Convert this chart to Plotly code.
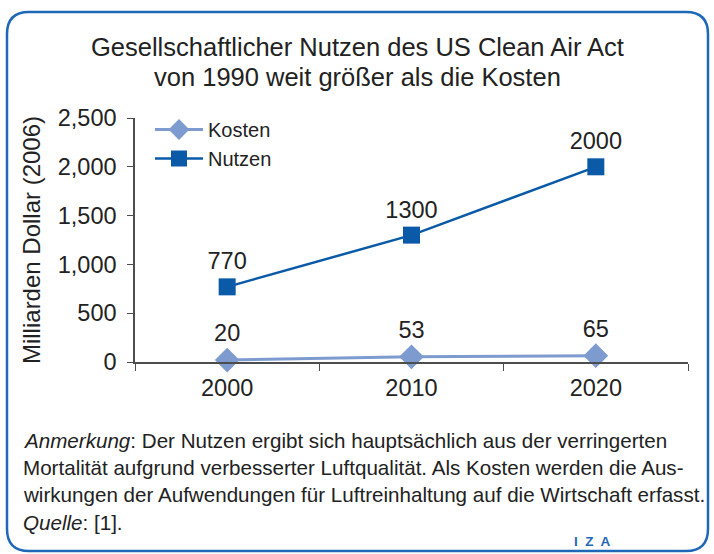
import plotly.graph_objects as go

# ---- data ----
years = ["2000", "2010", "2020"]
kosten = [20, 53, 65]
nutzen = [770, 1300, 2000]
y_ticks = [0, 500, 1000, 1500, 2000, 2500]
y_ticktext = ["0", "500", "1,000", "1,500", "2,000", "2,500"]

title_lines = ["Gesellschaftlicher Nutzen des US Clean Air Act",
               "von 1990 weit größer als die Kosten"]
y_title = "Milliarden Dollar (2006)"
note_lines = [
    "<i>Anmerkung</i>: Der Nutzen ergibt sich hauptsächlich aus der verringerten",
    "Mortalität aufgrund verbesserter Luftqualität. Als Kosten werden die Aus-",
    "wirkungen der Aufwendungen für Luftreinhaltung auf die Wirtschaft erfasst.",
    "<i>Quelle</i>: [1].",
]

# ---- layout geometry (pixels) ----
W, H = 714, 554
L, R, T, B = 135, 26, 118, 192
PW, PH = W - L - R, H - T - B

def px(x):
    return (x - L) / PW

def py(y):
    return (H - B - y) / PH

TXT = "#222222"
FONT = "Liberation Sans, Arial, sans-serif"
C_K = "#7e9bd0"
C_N = "#0a5aa8"
BORDER = "#1f68b8"
NUM = 23.5

fig = go.Figure()
fig.add_trace(go.Scatter(
    x=years, y=kosten, name="Kosten", mode="lines+markers+text",
    text=[str(v) for v in kosten], textposition="top center",
    textfont=dict(size=NUM, color=TXT, family=FONT),
    line=dict(color=C_K, width=3),
    marker=dict(symbol="diamond", size=19, color=C_K),
    cliponaxis=False,
))
fig.add_trace(go.Scatter(
    x=years, y=nutzen, name="Nutzen", mode="lines+markers+text",
    text=[str(v) for v in nutzen], textposition="top center",
    textfont=dict(size=NUM, color=TXT, family=FONT),
    line=dict(color=C_N, width=2.5),
    marker=dict(symbol="square", size=17, color=C_N),
    cliponaxis=False,
))

# rounded border
x0, x1, y0, y1, r = 7, 708, 12, 551, 22
rx, ry = r / PW, r / PH
X0, X1, Y0, Y1 = px(x0), px(x1), py(y0), py(y1)
path = (
    f"M {X0+rx},{Y0} L {X1-rx},{Y0} Q {X1},{Y0} {X1},{Y0-ry} "
    f"L {X1},{Y1+ry} Q {X1},{Y1} {X1-rx},{Y1} "
    f"L {X0+rx},{Y1} Q {X0},{Y1} {X0},{Y1+ry} "
    f"L {X0},{Y0-ry} Q {X0},{Y0} {X0+rx},{Y0} Z"
)
shapes = [dict(type="path", xref="paper", yref="paper", path=path,
               line=dict(color=BORDER, width=2.5), layer="below")]

annotations = []
for i, line in enumerate(title_lines):
    yy = [47, 77][i]
    annotations.append(dict(
        x=px(357), y=py(yy), xref="paper", yref="paper", text=line,
        showarrow=False, xanchor="center", yanchor="middle",
        font=dict(size=25.5, color=TXT, family=FONT),
    ))
for i, line in enumerate(note_lines):
    yy = [440, 467, 494, 522][i]
    annotations.append(dict(
        x=px(21), y=py(yy), xref="paper", yref="paper", text=line,
        showarrow=False, xanchor="left", yanchor="middle",
        font=dict(size=20.6, color=TXT, family=FONT),
    ))
annotations.append(dict(
    x=px(592), y=py(541), xref="paper", yref="paper", text="<b>I  Z  A</b>",
    showarrow=False, xanchor="center", yanchor="middle",
    font=dict(size=13.5, color=BORDER, family=FONT),
))

fig.update_layout(
    width=W, height=H,
    margin=dict(l=L, r=R, t=T, b=B),
    paper_bgcolor="white", plot_bgcolor="white",
    font=dict(family=FONT, color=TXT),
    showlegend=True,
    legend=dict(x=px(150), y=py(110), xanchor="left", yanchor="top",
                font=dict(size=20, color=TXT, family=FONT),
                bgcolor="rgba(0,0,0,0)", itemwidth=48, tracegroupgap=0),
    shapes=shapes,
    annotations=annotations,
)
fig.update_xaxes(
    type="category", categoryorder="array", categoryarray=years,
    range=[-0.5, 2.5], showline=True, linecolor="#4d4d4d", linewidth=1.5,
    ticks="outside", tickson="boundaries", ticklen=7, tickcolor="#4d4d4d",
    ticklabelstandoff=4,
    tickfont=dict(size=NUM, color=TXT, family=FONT), showgrid=False, zeroline=False,
)
fig.update_yaxes(
    range=[0, 2500], tickvals=y_ticks, ticktext=y_ticktext,
    showline=True, linecolor="#4d4d4d", linewidth=1.5,
    ticks="outside", ticklen=6, tickcolor="#4d4d4d",
    ticklabelstandoff=6,
    tickfont=dict(size=NUM, color=TXT, family=FONT), showgrid=False, zeroline=False,
    title=dict(text=y_title, font=dict(size=24, color=TXT, family=FONT), standoff=10),
)

fig.write_html("out.html", config={"displayModeBar": False},
               post_script="document.body.style.margin='0';")
